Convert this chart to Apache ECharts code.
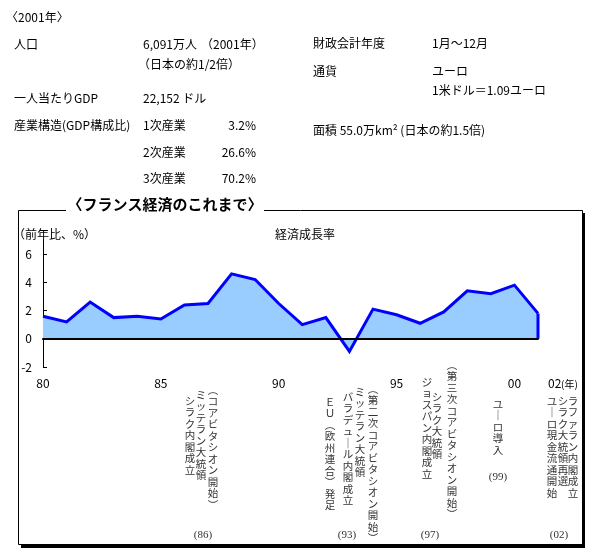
<!DOCTYPE html>
<html><head><meta charset="utf-8">
<script src="https://cdn.jsdelivr.net/npm/echarts@6/dist/echarts.min.js"></script>
<style>html,body{margin:0;padding:0;background:#fff}#c{width:597px;height:557px}</style>
</head><body><div id="c"></div>
<script>
// ---- data ----
const years = [1980,1981,1982,1983,1984,1985,1986,1987,1988,1989,1990,1991,1992,1993,1994,1995,1996,1997,1998,1999,2000,2001];
const growth = [1.6,1.2,2.6,1.5,1.6,1.4,2.4,2.5,4.6,4.2,2.5,1.0,1.5,-0.9,2.1,1.7,1.1,1.9,3.4,3.2,3.8,1.8];
const xTickValues = [1980,1985,1990,1995,2000];
const xTickLabels = ['80','85','90','95','00'];
const yTickValues = [-2,0,2,4,6];
const lastYearLabel = '02';
const yearUnit = '(年)';
const chartTitle = '〈フランス経済のこれまで〉';
const seriesName = '経済成長率';
const yUnit = '（前年比、%）';
const headerText = '〈2001年〉';
const infoTexts = ['人口','6,091万人','（2001年）','（日本の約1/2倍）','一人当たりGDP','22,152 ドル',
  '産業構造(GDP構成比)','1次産業','3.2%','2次産業','26.6%','3次産業','70.2%',
  '財政会計年度','1月～12月','通貨','ユーロ','1米ドル＝1.09ユーロ','面積 55.0万km² (日本の約1.5倍)'];
const eventLabels = ['(86)','(93)','(97)','(99)','(02)'];
const eventColumns = [
  ['（コアビタシオン開始）','ミッテラン大統領','シラク内閣成立'],
  ['（第二次コアビタシオン開始）','ミッテラン大統領','バラデュール内閣成立','ＥＵ（欧州連合）発足'],
  ['（第三次コアビタシオン開始）','シラク大統領','ジョスパン内閣成立'],
  ['ユーロ導入'],
  ['ラファラン内閣成立','シラク大統領再選','ユーロ現金流通開始']
];

// ---- layout ----
const infoLayout = [[14,44],[143,44],[201,44],[138,64],[14,98],[143,98],
  [14,125],[143,125],[256,125,'right'],[143,152],[256,152,'right'],[143,178],[256,178,'right'],
  [313,43],[432,43],[313,71],[432,71],[432,90],[313,130]];
const colLayout = [
  [[213,384],[201,389],[190,395]],
  [[373,383],[360,386],[348,391],[330,396]],
  [[452,359],[437,391],[427,376]],
  [[498,398]],
  [[573,395],[563,395],[552,395]]
];
const labelLayout = [[203,535],[347,535],[430,535],[498,477],[559,535]];

const CJK = '"Noto Sans CJK JP", sans-serif';
function txt(x, y, s, o) {
  const st = Object.assign({text: s, fill: '#000', fontSize: 12, fontFamily: CJK,
    align: 'left', verticalAlign: 'middle'}, o || {});
  st.textAlign = st.align; st.textVerticalAlign = st.verticalAlign;
  return {type: 'text', x: x, y: y, z: 10, style: st};
}
const vmap = {'（':'︵','）':'︶','ー':'｜'};
function vert(s) { return Array.from(s).map(c => vmap[c] || c).join('\n'); }

const graphics = [];
// frame with shadow
graphics.push({type:'rect', z:1, shape:{x:582,y:213,width:3,height:335}, style:{fill:'#000'}});
graphics.push({type:'rect', z:1, shape:{x:21,y:544,width:564,height:4}, style:{fill:'#000'}});
graphics.push({type:'rect', z:1, shape:{x:18.5,y:210.5,width:564,height:334}, style:{fill:null, stroke:'#000', lineWidth:1}});
graphics.push({type:'rect', z:2, shape:{x:66,y:200,width:198,height:16}, style:{fill:'#fff'}});
graphics.push(txt(165, 204, chartTitle, {align:'center', fontSize:15, fontWeight:'bold'}));
graphics.push(txt(13, 234, yUnit));
graphics.push(txt(305, 234, seriesName, {align:'center'}));
graphics.push(txt(6, 17, headerText));
infoTexts.forEach((s, i) => {
  const L = infoLayout[i];
  graphics.push(txt(L[0], L[1], s, {align: L[2] || 'left'}));
});
graphics.push(txt(548, 383, lastYearLabel));
graphics.push(txt(561, 384, yearUnit, {fontSize: 10}));
eventColumns.forEach((cols, g) => {
  cols.forEach((s, k) => {
    const P = colLayout[g][k];
    graphics.push(txt(P[0], P[1], vert(s), {align:'center', verticalAlign:'top', fontSize:10.5, lineHeight:11.5, fill:'#333'}));
  });
  const Q = labelLayout[g];
  graphics.push(txt(Q[0], Q[1], eventLabels[g], {align:'center', fontSize:11, fontFamily:'"Liberation Serif", serif', fill:'#333'}));
});

const n = years.length;
const chart = echarts.init(document.getElementById('c'), null, {renderer:'canvas'});
chart.setOption({
  animation: false,
  grid: {left: 43, right: 59, top: 240, bottom: 190},
  xAxis: [
    {type:'value', min:1980, max:2001, z:3,
     axisLine:{show:true, onZero:true, lineStyle:{color:'#000', width:2}},
     axisTick:{show:false}, axisLabel:{show:false}, splitLine:{show:false}},
    {type:'value', min:1980, max:2001, position:'bottom', interval:5,
     axisLine:{show:false, onZero:false}, axisTick:{show:false}, splitLine:{show:false},
     axisLabel:{customValues: xTickValues, margin: 10, fontSize: 12, color:'#000', fontFamily: CJK,
       formatter: v => xTickLabels[xTickValues.indexOf(v)]}}
  ],
  yAxis: {type:'value', min:-2, max:7, interval:2,
    axisLine:{show:true, onZero:false, lineStyle:{color:'#000', width:1}},
    axisTick:{show:true, inside:true, length:4, customValues: yTickValues, lineStyle:{color:'#000'}},
    axisLabel:{customValues: yTickValues, margin: 11, fontSize: 12, color:'#000', fontFamily: CJK},
    splitLine:{show:false}},
  series: [
    {type:'line', xAxisIndex:0, data: years.map((y, i) => [y, growth[i]]), symbol:'none', z:2,
     lineStyle:{color:'#0000ff', width:3, join:'miter'}, areaStyle:{color:'#99ccff', opacity:1}},
    {type:'line', xAxisIndex:0, data: [[years[n-1], growth[n-1]], [years[n-1], 0]], symbol:'none', z:2,
     lineStyle:{color:'#0000ff', width:3}}
  ],
  graphic: graphics
});
</script></body></html>
